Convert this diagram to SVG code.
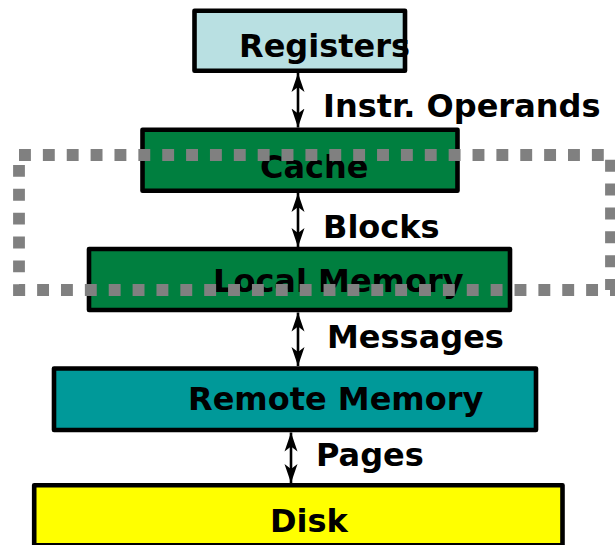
<svg xmlns="http://www.w3.org/2000/svg" width="615" height="545" viewBox="0 0 615 545">
  <style>
    .box { stroke: #000; stroke-width: 4.6; stroke-linejoin: round; }
    .lbl { font-family: "DejaVu Sans", sans-serif; font-weight: bold; font-size: 32px; fill: #000; }
    .conn { stroke: #000; stroke-width: 2.6; fill: none; marker-start: url(#ah); marker-end: url(#ah); }
    .region { fill: none; stroke: #808080; stroke-width: 11.8; stroke-dasharray: 11.9 11.97; }
  </style>
  <defs>
    <marker id="ah" viewBox="0 -7 20 14" refX="19" refY="0" markerWidth="20" markerHeight="14" markerUnits="userSpaceOnUse" orient="auto-start-reverse">
      <path d="M19,0 L0,-6.5 L5,0 L0,6.5 Z" fill="#000"/>
    </marker>
  </defs>

  <rect width="615" height="545" fill="#fff"/>

  <g id="registers">
    <rect class="box" x="194.5" y="10.8" width="210.5" height="60" fill="#b9e0e2"/>
    <text class="lbl" x="239" y="57">Registers</text>
  </g>
  <g id="cache">
    <rect class="box" x="142.5" y="129.8" width="315" height="61" fill="#007f3f"/>
    <text class="lbl" x="260" y="178">Cache</text>
  </g>
  <g id="local-memory">
    <rect class="box" x="89" y="249" width="421" height="61" fill="#007f3f"/>
    <text class="lbl" x="213" y="292">Local Memory</text>
  </g>
  <g id="remote-memory">
    <rect class="box" x="54" y="368.5" width="482" height="61.5" fill="#009999"/>
    <text class="lbl" x="188" y="410">Remote Memory</text>
  </g>
  <g id="disk">
    <rect class="box" x="34.2" y="485.2" width="528.3" height="60" fill="#ffff00"/>
    <text class="lbl" x="270" y="532">Disk</text>
  </g>

  <g id="connectors">
    <line class="conn" x1="298" y1="73" x2="298" y2="127.5"/>
    <text class="lbl" x="323" y="117">Instr. Operands</text>
    <line class="conn" x1="298" y1="193" x2="298" y2="247"/>
    <text class="lbl" x="323" y="238">Blocks</text>
    <line class="conn" x1="298" y1="312.5" x2="298" y2="366"/>
    <text class="lbl" x="327" y="348">Messages</text>
    <line class="conn" x1="291" y1="432.5" x2="291" y2="483"/>
    <text class="lbl" x="316" y="466">Pages</text>
  </g>

  <g id="region">
    <rect class="region" x="19" y="155" width="592" height="135"/>
  </g>
</svg>
